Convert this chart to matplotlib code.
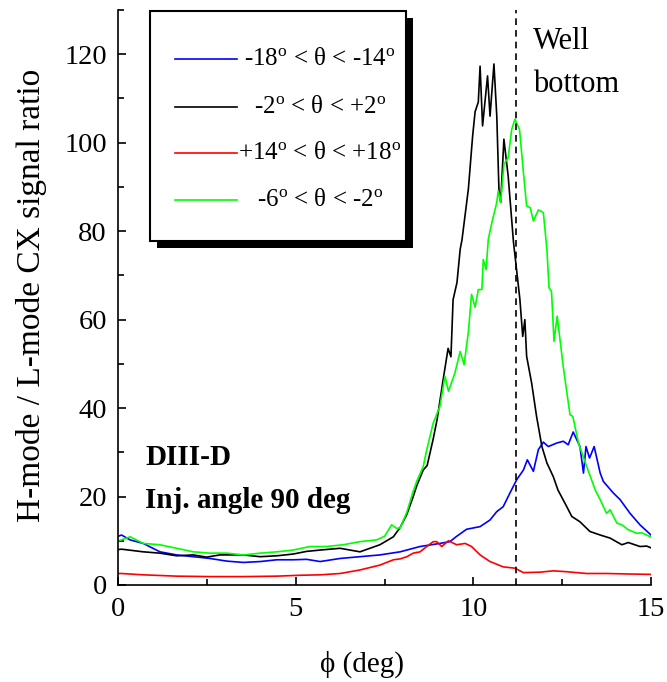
import matplotlib
matplotlib.use("Agg")
import matplotlib.pyplot as plt
from matplotlib.patches import Rectangle
from matplotlib.lines import Line2D

plt.rcParams['font.family'] = ['Liberation Serif', 'DejaVu Serif']
plt.rcParams['mathtext.fontset'] = 'custom'
plt.rcParams['mathtext.rm'] = 'Liberation Serif'
plt.rcParams['mathtext.it'] = 'Liberation Serif:italic'

# -18 < theta < -14 (blue)
blue_x = [0.0, 0.1, 0.34, 0.71, 1.18, 1.65, 2.12, 2.59, 3.06, 3.53, 4.0, 4.47, 4.93, 5.31,
          5.69, 6.25, 6.81, 7.37, 7.94, 8.5, 9.06, 9.34, 9.53, 9.81, 10.19, 10.47, 10.66,
          10.84, 11.03, 11.22, 11.41, 11.52, 11.69, 11.83, 11.97, 12.11, 12.35, 12.53,
          12.67, 12.81, 13.0, 13.1, 13.17, 13.27, 13.4, 13.57, 13.66, 13.94, 14.13, 14.41,
          14.69, 15.0]
blue_y = [11.0, 11.3, 10.2, 9.4, 7.5, 6.8, 6.4, 6.0, 5.4, 5.1, 5.3, 5.7, 5.7, 5.8,
          5.3, 6.0, 6.4, 6.8, 7.5, 8.7, 9.4, 9.8, 11.0, 12.6, 13.2, 14.7, 16.6,
          17.7, 20.8, 23.8, 26.0, 28.3, 25.7, 30.6, 32.3, 31.3, 32.1, 32.5,
          31.7, 34.6, 31.3, 25.3, 31.3, 28.7, 31.3, 25.3, 23.4, 20.8, 19.3, 16.2,
          13.6, 11.3]

# -2 < theta < +2 (black)
black_x = [0.0, 0.1, 0.71, 1.18, 1.65, 2.12, 2.49, 2.87, 3.53, 4.0, 4.47, 4.93, 5.31,
           5.69, 6.25, 6.81, 7.37, 7.75, 7.94, 8.13, 8.3, 8.41, 8.59, 8.7, 8.87, 8.98,
           9.15, 9.29, 9.37, 9.43, 9.54, 9.63, 9.68, 9.86, 9.98, 10.05, 10.14, 10.19,
           10.26, 10.4, 10.47, 10.58, 10.66, 10.72, 10.77, 10.86, 10.98, 11.13, 11.31,
           11.39, 11.45, 11.5, 11.64, 11.78, 11.93, 12.07, 12.25, 12.38, 12.63, 12.77,
           13.0, 13.28, 13.57, 13.85, 14.18, 14.36, 14.69, 14.88, 15.0]
black_y = [8.0, 8.1, 7.5, 7.2, 6.6, 6.8, 6.3, 6.8, 6.8, 6.4, 6.6, 7.0, 7.6,
           7.9, 8.3, 7.5, 9.1, 10.9, 13.0, 16.0, 19.8, 22.5, 26.0, 27.0, 33.0, 37.4,
           46.4, 53.5, 51.6, 64.5, 68.4, 75.9, 78.0, 89.5, 101.5, 107.0, 109.2, 117.3,
           103.8, 115.1, 106.0, 117.8, 106.0, 89.5, 86.5, 100.8, 92.5, 77.5, 64.6,
           56.2, 60.0, 51.7, 45.7, 38.1, 31.3, 27.6, 24.5, 21.5, 17.7, 15.5,
           14.3, 12.1, 11.3, 10.6, 9.1, 9.6, 8.7, 8.8, 8.4]

# +14 < theta < +18 (red)
red_x = [0.0, 0.1, 0.71, 1.65, 2.59, 3.53, 4.47, 5.12, 5.69, 6.25, 6.81, 7.37, 7.75,
         7.94, 8.13, 8.31, 8.5, 8.69, 8.87, 8.97, 9.11, 9.3, 9.53, 9.77, 9.95, 10.19,
         10.47, 10.84, 11.17, 11.41, 11.88, 12.25, 12.63, 13.19, 13.75, 14.32, 15.0]
red_y = [2.6, 2.6, 2.3, 2.0, 1.9, 1.9, 2.0, 2.2, 2.3, 2.6, 3.4, 4.5, 5.7,
         5.9, 6.4, 7.2, 7.5, 8.7, 9.8, 9.8, 8.7, 10.0, 9.1, 9.4, 8.7, 6.8,
         5.3, 4.1, 3.8, 2.8, 2.9, 3.2, 3.0, 2.6, 2.6, 2.5, 2.4]

# -6 < theta < -2 (green)
green_x = [0.0, 0.1, 0.34, 0.71, 1.18, 1.65, 2.12, 2.59, 3.06, 3.53, 4.0, 4.47, 4.93,
           5.4, 5.87, 6.34, 6.81, 7.28, 7.5, 7.7, 7.84, 7.94, 8.13, 8.3, 8.41, 8.59,
           8.69, 8.87, 9.06, 9.2, 9.3, 9.48, 9.63, 9.74, 9.86, 9.95, 10.05, 10.14,
           10.24, 10.28, 10.36, 10.42, 10.52, 10.66, 10.7, 10.77, 10.86, 10.98, 11.08,
           11.17, 11.3, 11.41, 11.5, 11.6, 11.69, 11.83, 11.97, 12.07, 12.13, 12.2,
           12.27, 12.36, 12.53, 12.72, 12.8, 12.96, 13.19, 13.43, 13.57, 13.75, 13.85,
           14.04, 14.18, 14.36, 14.6, 14.74, 14.88, 15.0]
green_y = [10.0, 10.2, 10.9, 9.4, 9.1, 8.3, 7.5, 7.2, 7.2, 6.8, 7.2, 7.5, 7.9,
           8.7, 8.7, 9.1, 9.8, 10.2, 11.0, 13.6, 12.8, 12.9, 16.5, 21.0, 23.5, 26.8,
           30.6, 36.6, 40.4, 47.2, 43.8, 47.9, 52.8, 49.8, 57.2, 65.7, 62.8, 66.8,
           66.8, 73.6, 71.3, 78.1, 81.9, 86.5, 89.1, 86.5, 95.1, 96.6, 103.0,
           105.3, 103.0, 93.2, 85.7, 85.3, 82.3, 84.8, 84.2, 75.9, 67.2, 66.4,
           55.1, 60.8, 49.4, 38.5, 38.1, 32.1, 26.8, 21.5, 19.3, 16.2, 17.0,
           14.0, 13.6, 12.5, 11.7, 11.8, 11.3, 10.8]

labels = ['-18$^{\\rm o}$ < θ < -14$^{\\rm o}$',
          '-2$^{\\rm o}$ < θ < +2$^{\\rm o}$',
          '+14$^{\\rm o}$ < θ < +18$^{\\rm o}$',
          '-6$^{\\rm o}$ < θ < -2$^{\\rm o}$']
colors = ['#0000ff', '#000000', '#ff0000', '#00ff00']
well_bottom = 11.2

W, H = 667, 682
fig = plt.figure(figsize=(W / 100, H / 100), dpi=100)
ax = fig.add_axes([118 / W, 1 - 585 / H, (651 - 118) / W, (585 - 10) / H])

series = [(blue_x, blue_y), (black_x, black_y), (red_x, red_y), (green_x, green_y)]
for (xs, ys), c in zip(series, colors):
    ax.plot(xs, ys, color=c, lw=1.2)

ax.axvline(well_bottom, color='black', lw=1.2, ls=(0, (4, 3)))

ax.set_xlim(0, 15)
ax.set_ylim(0, 130)
ax.set_xticks([0, 5, 10, 15])
ax.set_xticks([2.5, 7.5, 12.5], minor=True)
ax.set_yticks(range(0, 121, 20))
ax.set_yticks(range(10, 131, 20), minor=True)
ax.spines['top'].set_visible(False)
ax.spines['right'].set_visible(False)
for s in ['left', 'bottom']:
    ax.spines[s].set_linewidth(1.2)
ax.tick_params(which='major', direction='in', length=6, width=1.2, labelsize=20.5)
ax.tick_params(which='minor', direction='in', length=4, width=1.2)
ax.tick_params(axis='y', pad=8)
ax.tick_params(axis='x', pad=9)

# axis labels
fig.text(362 / W, 1 - 672 / H, 'ϕ (deg)', fontsize=21, ha='center', va='baseline')
fig.text(32 / W, 1 - 295 / H, 'H-mode / L-mode CX signal ratio', fontsize=24,
         rotation=90, ha='center', va='center')

# annotations
ax.text(11.68, 121.2, 'Well', fontsize=22, va='baseline')
ax.text(11.68, 111.4, 'bottom', fontsize=22, va='baseline')
ax.text(0.76, 27.2, 'DIII-D', fontsize=21, fontweight='bold', va='baseline')
ax.text(0.76, 17.4, 'Inj. angle 90 deg', fontsize=21, fontweight='bold', va='baseline')

# legend box with drop shadow
def fx(px):
    return px / W

def fy(py):
    return 1 - py / H

bx0, bx1, by0, by1 = 150, 406, 11, 241
fig.patches.append(Rectangle((fx(bx0 + 7), fy(by1 + 7)), fx(bx1) - fx(bx0), fy(by0) - fy(by1),
                             transform=fig.transFigure, facecolor='black', edgecolor='none'))
fig.patches.append(Rectangle((fx(bx0), fy(by1)), fx(bx1) - fx(bx0), fy(by0) - fy(by1),
                             transform=fig.transFigure, facecolor='white', edgecolor='black',
                             lw=1.5))
rows = [59, 107, 153, 200]
for lab, c, py in zip(labels, colors, rows):
    fig.lines.append(Line2D([fx(175), fx(237)], [fy(py), fy(py)], color=c, lw=1.2,
                            transform=fig.transFigure))
    fig.text(fx(320), fy(py), lab, fontsize=18, ha='center', va='center')

fig.savefig('out.png', dpi=100)
